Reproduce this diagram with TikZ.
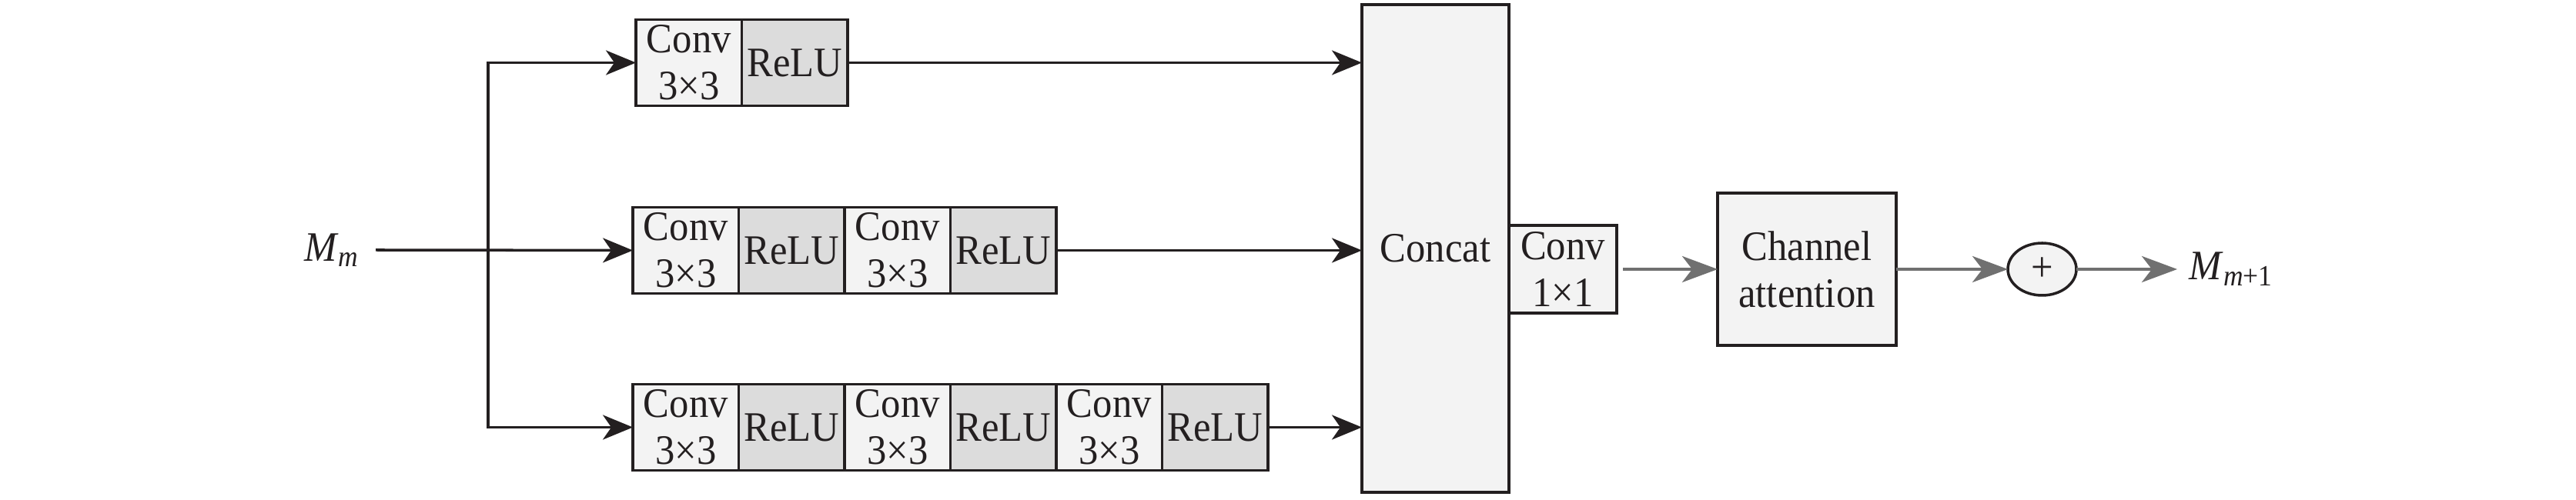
\documentclass[tikz,border=0pt]{standalone}
\usepackage{amsmath}
\usepackage{fontspec}
\setmainfont{Liberation Serif}[FakeStretch=0.93]
\usepackage{xcolor}
\usepackage{tikz}
\usetikzlibrary{arrows.meta,positioning,shapes.geometric}
\definecolor{inkc}{HTML}{231F20}
\definecolor{convfill}{HTML}{F3F3F3}
\definecolor{relufill}{HTML}{DCDCDC}
\definecolor{flowgray}{HTML}{707070}
\tikzset{
	blk/.style={draw=inkc,line width=1pt,inner sep=0pt,outer sep=0pt,align=center,text=inkc,font=\fontsize{15.5pt}{17.3pt}\selectfont},
	convblk/.style={blk,fill=convfill,minimum width=1.375cm,minimum height=1.12cm},
	relublk/.style={blk,fill=relufill,minimum width=1.375cm,minimum height=1.12cm},
	lbl/.style={text=inkc,font=\fontsize{15.5pt}{17.3pt}\selectfont},
	darr/.style={draw=inkc,line width=1pt,-{Stealth[length=3.9mm,width=3.2mm,inset=1.1mm]}},
	garr/.style={draw=flowgray,line width=1.2pt,-{Stealth[length=4.6mm,width=3.4mm,inset=1.3mm]}}
}

\begin{document}
\begin{tikzpicture}
 	\useasboundingbox (0,0) rectangle (33.46,6.5);
 	\node[convblk] (c11) at (8.948,5.685) {Conv\\3×3};
 	\node[relublk,right=0pt of c11] (r11) {ReLU};
 	\node[convblk] (c21) at (8.908,3.245) {Conv\\3×3};
 	\node[relublk,right=0pt of c21] (r21) {ReLU};
 	\node[convblk,right=0pt of r21] (c22) {Conv\\3×3};
 	\node[relublk,right=0pt of c22] (r22) {ReLU};
 	\node[convblk] (c31) at (8.908,0.945) {Conv\\3×3};
 	\node[relublk,right=0pt of c31] (r31) {ReLU};
 	\node[convblk,right=0pt of r31] (c32) {Conv\\3×3};
 	\node[relublk,right=0pt of c32] (r32) {ReLU};
 	\node[convblk,right=0pt of r32] (c33) {Conv\\3×3};
 	\node[relublk,right=0pt of c33] (r33) {ReLU};
 	\node[blk,fill=convfill,minimum width=1.91cm,minimum height=6.34cm] (concat) at (18.645,3.27) {Concat};
 	\node[blk,fill=convfill,minimum width=1.40cm,minimum height=1.14cm,anchor=west] (c1x1) at (19.60,3.0) {Conv\\1×1};
 	\node[blk,fill=convfill,minimum width=2.32cm,minimum height=1.98cm] (ca) at (23.47,3.0) {Channel\\attention};
 	\node[blk,ellipse,fill=convfill,minimum width=0.89cm,minimum height=0.68cm] (add) at (26.525,3.0) {+};
 	\node[lbl,anchor=east,inner sep=0.2cm] (min) at (4.88,3.25) {\textit{M}$_{\textit{m}}$};
 	\node[lbl,anchor=west,inner sep=0.15cm] (mout) at (28.28,3.0) {\textit{M}$_{\textit{m}\text{+1}}$};
 	\coordinate (split) at (6.34,3.25);
 	\draw[darr] (min.east) -- (c21.west);
 	\draw[darr] (split) |- (c11.west);
 	\draw[darr] (split) |- (c31.west);
 	\draw[darr] (r11.east) -- (r11.east -| concat.west);
 	\draw[darr] (r22.east) -- (r22.east -| concat.west);
 	\draw[darr] (r33.east) -- (r33.east -| concat.west);
 	\draw[garr,shorten <=0.08cm] (c1x1.east) -- (ca.west);
 	\draw[garr] (ca.east) -- (add.west);
 	\draw[garr] (add.east) -- (mout.west);
\end{tikzpicture}
\end{document}
